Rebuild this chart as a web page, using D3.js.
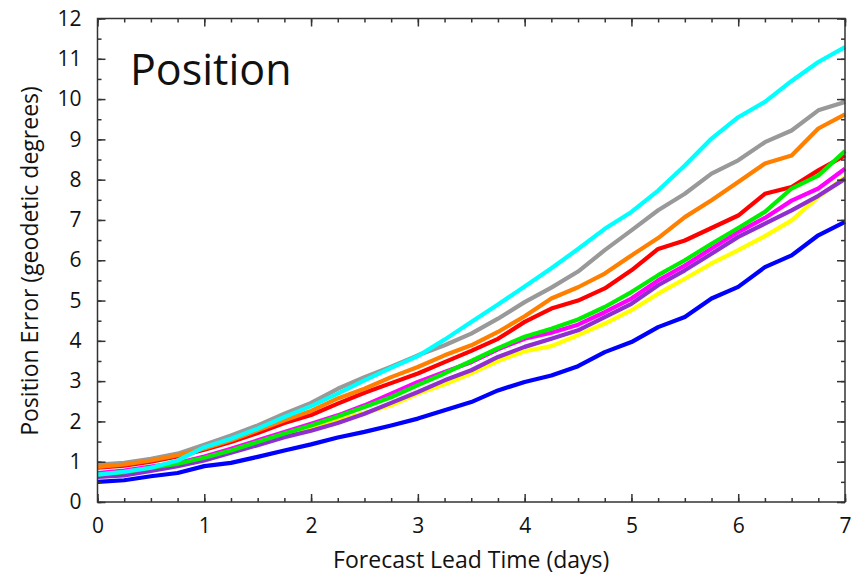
<!DOCTYPE html>
<html>
<head>
<meta charset="utf-8">
<script src="https://cdn.jsdelivr.net/npm/d3@7"></script>
<style>
  body { margin: 0; background: #fff; }
  svg text { font-family: "Open Sans", "Noto Sans", sans-serif; fill: #111; }
</style>
</head>
<body>
<div id="canvas"></div>
<script>
"use strict"

/* Chart data: lead time every 6 hours, error per model */
let leadDays = d3.range(0, 7.001, 0.25);

let cyanErr = [0.68, 0.75, 0.85, 1.03, 1.36, 1.57, 1.82, 2.11, 2.38, 2.69, 3.02, 3.33, 3.62, 4.03, 4.47, 4.9, 5.35, 5.8, 6.28, 6.78, 7.2, 7.73, 8.35, 9.02, 9.55, 9.93, 10.45, 10.92, 11.29];
let grayErr = [0.93, 0.97, 1.07, 1.2, 1.42, 1.65, 1.9, 2.19, 2.46, 2.81, 3.1, 3.36, 3.64, 3.89, 4.18, 4.55, 4.96, 5.32, 5.72, 6.25, 6.74, 7.24, 7.65, 8.15, 8.48, 8.93, 9.22, 9.72, 9.93];
let orangeErr = [0.87, 0.93, 1.03, 1.16, 1.33, 1.53, 1.78, 2.03, 2.26, 2.57, 2.81, 3.1, 3.35, 3.64, 3.89, 4.22, 4.61, 5.05, 5.33, 5.67, 6.12, 6.55, 7.07, 7.49, 7.94, 8.4, 8.6, 9.27, 9.62];
let redErr = [0.85, 0.9, 1.0, 1.13, 1.3, 1.49, 1.71, 1.96, 2.16, 2.44, 2.71, 2.95, 3.19, 3.47, 3.75, 4.05, 4.47, 4.8, 5.0, 5.3, 5.75, 6.28, 6.49, 6.8, 7.11, 7.65, 7.82, 8.23, 8.6];
let greenErr = [0.68, 0.74, 0.85, 0.95, 1.1, 1.28, 1.49, 1.7, 1.9, 2.12, 2.36, 2.6, 2.9, 3.19, 3.5, 3.82, 4.1, 4.3, 4.53, 4.84, 5.21, 5.63, 6.0, 6.41, 6.8, 7.2, 7.78, 8.1, 8.71];
let magentaErr = [0.72, 0.78, 0.88, 0.97, 1.13, 1.32, 1.53, 1.74, 1.94, 2.15, 2.4, 2.69, 2.98, 3.23, 3.47, 3.79, 4.05, 4.2, 4.4, 4.71, 5.05, 5.5, 5.87, 6.29, 6.7, 7.05, 7.48, 7.78, 8.27];
let purpleErr = [0.62, 0.66, 0.77, 0.89, 1.03, 1.22, 1.41, 1.61, 1.77, 1.96, 2.19, 2.46, 2.73, 3.02, 3.27, 3.6, 3.85, 4.05, 4.26, 4.59, 4.92, 5.38, 5.75, 6.16, 6.58, 6.91, 7.24, 7.6, 8.02];
let yellowErr = [0.65, 0.7, 0.8, 0.92, 1.07, 1.25, 1.45, 1.65, 1.84, 2.02, 2.21, 2.4, 2.69, 2.92, 3.19, 3.5, 3.74, 3.87, 4.14, 4.43, 4.76, 5.17, 5.54, 5.92, 6.25, 6.6, 6.99, 7.57, 8.06];
let blueErr = [0.5, 0.54, 0.64, 0.72, 0.89, 0.97, 1.12, 1.28, 1.43, 1.6, 1.74, 1.9, 2.07, 2.28, 2.48, 2.77, 2.98, 3.14, 3.37, 3.72, 3.97, 4.34, 4.59, 5.05, 5.34, 5.83, 6.12, 6.62, 6.95];

/* drawing order: back to front */
let seriesList = [
    { name: "yellow", values: yellowErr },
    { name: "purple", values: purpleErr },
    { name: "magenta", values: magentaErr },
    { name: "red", values: redErr },
    { name: "green", values: greenErr },
    { name: "blue", values: blueErr },
    { name: "gray", values: grayErr },
    { name: "orange", values: orangeErr },
    { name: "cyan", values: cyanErr }
];
let colorOf = {
    yellow: "#ffff00", purple: "#8f2fd0", magenta: "#ff00ff", red: "#ff0000",
    green: "#00ee00", blue: "#0000ff", gray: "#999999", orange: "#ff8000", cyan: "#00ffff"
};

let xTicks = [0, 1, 2, 3, 4, 5, 6, 7];
let yTicks = d3.range(0, 13);

/* Configuration variables: drawing */
let svgWidth = 852;
let svgHeight = 577;
let plotLeft = 97.5;
let plotRight = 845;
let plotTop = 18.5;
let plotBottom = 502;

let svg = d3.select("#canvas")
    .append("svg")
    .attr("width", svgWidth)
    .attr("height", svgHeight);

let x = d3.scaleLinear().domain([0, 7]).range([plotLeft, plotRight]);
let y = d3.scaleLinear().domain([0, 12]).range([plotBottom, plotTop]);

/* lines */
let line = d3.line()
    .x(function (d, i) { return x(leadDays[i]); })
    .y(function (d) { return y(d); });

svg.append("g")
    .selectAll("path")
    .data(seriesList)
    .join("path")
    .attr("fill", "none")
    .attr("stroke", function (s) { return colorOf[s.name]; })
    .attr("stroke-width", 4.2)
    .attr("stroke-linejoin", "round")
    .attr("d", function (s) { return line(s.values); });

/* inward ticks on all four sides */
let frameColor = "#333";
function styleAxis(g) {
    g.select(".domain").remove();
    g.selectAll("line").attr("stroke", frameColor).attr("stroke-width", 1.5);
}
let xMinor = d3.range(0, 7.001, 0.25);
let yMinor = d3.range(0, 12.001, 0.5);

svg.append("g").attr("transform", "translate(0," + plotBottom + ")")
    .call(d3.axisBottom(x).tickValues(xMinor).tickSize(-4).tickFormat(""))
    .call(styleAxis);
svg.append("g").attr("transform", "translate(0," + plotBottom + ")")
    .call(d3.axisBottom(x).tickValues(xTicks).tickSize(-8).tickPadding(16).tickFormat(d3.format("d")))
    .call(styleAxis)
    .selectAll("text").attr("font-size", 21).attr("fill", "#111").attr("font-family", null);
svg.append("g").attr("transform", "translate(0," + plotTop + ")")
    .call(d3.axisTop(x).tickValues(xMinor).tickSize(-4).tickFormat(""))
    .call(styleAxis);
svg.append("g").attr("transform", "translate(0," + plotTop + ")")
    .call(d3.axisTop(x).tickValues(xTicks).tickSize(-8).tickFormat(""))
    .call(styleAxis);

svg.append("g").attr("transform", "translate(" + plotLeft + ",0)")
    .call(d3.axisLeft(y).tickValues(yMinor).tickSize(-4).tickFormat(""))
    .call(styleAxis);
svg.append("g").attr("transform", "translate(" + plotLeft + ",0)")
    .call(d3.axisLeft(y).tickValues(yTicks).tickSize(-8).tickPadding(16).tickFormat(d3.format("d")))
    .call(styleAxis)
    .selectAll("text").attr("font-size", 21).attr("fill", "#111").attr("font-family", null);
svg.append("g").attr("transform", "translate(" + plotRight + ",0)")
    .call(d3.axisRight(y).tickValues(yMinor).tickSize(-4).tickFormat(""))
    .call(styleAxis);
svg.append("g").attr("transform", "translate(" + plotRight + ",0)")
    .call(d3.axisRight(y).tickValues(yTicks).tickSize(-8).tickFormat(""))
    .call(styleAxis);

/* frame */
svg.append("rect")
    .attr("x", plotLeft)
    .attr("y", plotTop)
    .attr("width", plotRight - plotLeft)
    .attr("height", plotBottom - plotTop)
    .attr("fill", "none")
    .attr("stroke", frameColor)
    .attr("stroke-width", 1.5);

/* labels */
svg.append("text")
    .attr("x", 130)
    .attr("y", 85)
    .attr("font-size", 43)
    .text("Position");

svg.append("text")
    .attr("x", (plotLeft + plotRight) / 2)
    .attr("y", 568)
    .attr("text-anchor", "middle")
    .attr("font-size", 23)
    .text("Forecast Lead Time (days)");

svg.append("text")
    .attr("x", -261)
    .attr("y", 38)
    .attr("text-anchor", "middle")
    .attr("font-size", 23)
    .attr("transform", "rotate(-90)")
    .text("Position Error (geodetic degrees)");
</script>
</body>
</html>
